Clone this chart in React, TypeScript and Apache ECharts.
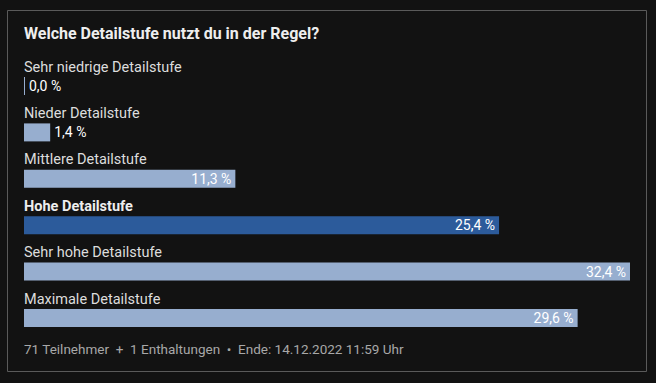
import React, { useEffect, useRef } from "react";
import * as echarts from "echarts";

const categories = [
  "Sehr niedrige Detailstufe",
  "Nieder Detailstufe",
  "Mittlere Detailstufe",
  "Hohe Detailstufe",
  "Sehr hohe Detailstufe",
  "Maximale Detailstufe",
];
const values = [0.0, 1.4, 11.3, 25.4, 32.4, 29.6];
const highlighted = "Hohe Detailstufe";
const titleText = "Welche Detailstufe nutzt du in der Regel?";
const footerText = "71 Teilnehmer  +  1 Enthaltungen  •  Ende: 14.12.2022 11:59 Uhr";

const FONT = "Roboto, 'Noto Sans', sans-serif";
const LIGHT = "#97aecf";
const DARK = "#2c5b9b";

export default function App() {
  const ref = useRef<HTMLDivElement>(null);
  useEffect(() => {
    document.body.style.margin = "0";
    document.body.style.background = "#121212";
    const chart = echarts.init(ref.current!, null, { renderer: "svg" });
    const fmt = (v: number) => v.toFixed(1).replace(".", ",") + " %";
    chart.setOption({
      animation: false,
      backgroundColor: "#121212",
      textStyle: { fontFamily: FONT },
      title: [
        {
          text: titleText,
          left: 24,
          top: 25,
          padding: 0,
          textStyle: { color: "#eeeeee", fontSize: 16, fontWeight: "bold", fontFamily: FONT },
        },
        {
          text: footerText,
          left: 24,
          top: 342,
          padding: 0,
          textStyle: { color: "#a8a8a8", fontSize: 13.5, fontWeight: "normal", fontFamily: FONT },
        },
      ],
      graphic: [
        {
          type: "rect",
          shape: { x: 7.5, y: 10.5, width: 639, height: 361 },
          style: { fill: "none", stroke: "#5a5a5a", lineWidth: 1 },
          silent: true,
        },
      ],
      grid: { left: 24, width: 606, top: 62.8, height: 278.4, containLabel: false },
      xAxis: {
        type: "value",
        min: 0,
        max: 32.4,
        show: false,
      },
      yAxis: {
        type: "category",
        inverse: true,
        data: categories,
        axisLine: { show: false },
        axisTick: { show: false },
        axisLabel: {
          inside: true,
          margin: 0,
          align: "left",
          verticalAlign: "middle",
          padding: [0, 0, 38, 0],
          color: "#dddddd",
          fontSize: 14.5,
          fontFamily: FONT,
          formatter: (v: string) => (v === highlighted ? `{b|${v}}` : v),
          rich: {
            b: { fontWeight: "bold", color: "#eeeeee", fontSize: 14.5, fontFamily: FONT },
          },
        },
      },
      series: [
        {
          type: "bar",
          barWidth: 18,
          barMinHeight: 1,
          data: values.map((v, i) => ({
            value: v,
            itemStyle: { color: categories[i] === highlighted ? DARK : LIGHT },
            label: {
              position: v < 5 ? "right" : "insideRight",
              distance: 4,
            },
          })),
          label: {
            show: true,
            color: "#ffffff",
            fontSize: 14,
            fontFamily: FONT,
            formatter: (p: any) => fmt(p.value),
          },
        },
      ],
    });
    return () => chart.dispose();
  }, []);
  return <div ref={ref} style={{ width: 656, height: 383 }} />;
}
